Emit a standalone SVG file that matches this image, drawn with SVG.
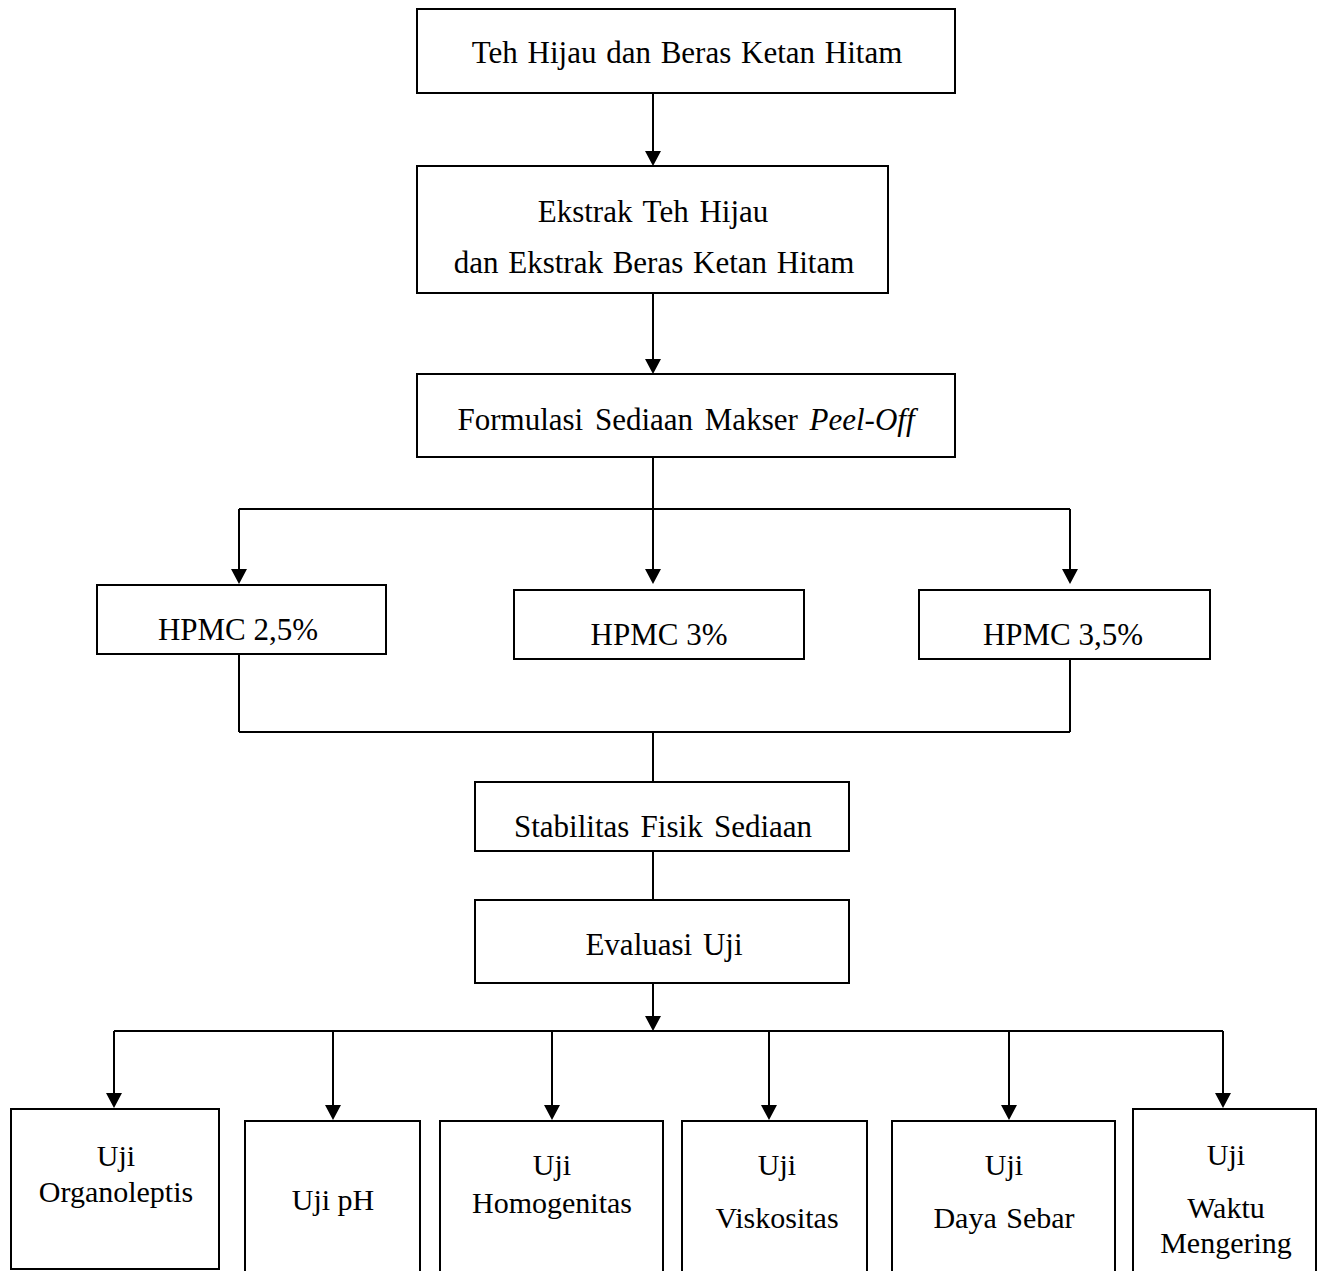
<svg xmlns="http://www.w3.org/2000/svg" width="1324" height="1271" viewBox="0 0 1324 1271">
<defs>
<style>
.box{fill:#fff;stroke:#000;stroke-width:2}
.ln{fill:none;stroke:#000;stroke-width:2}
.ah{fill:#000}
text{font-family:"Liberation Serif","Times New Roman",serif;font-size:31px;fill:#000;text-anchor:middle}
.sm{font-size:30px}
</style>
</defs>
<rect width="1324" height="1271" fill="#fff"/>
<g id="connectors">
<path class="ln" d="M653 93V152M653 293V360M653 457V509M239 509H1070M239 509V570M653 509V570M1070 509V570"/>
<path class="ln" d="M239 654V732M1070 659V732M239 732H1070M653 732V782M653 851V900M653 983V1017M114 1031H1223"/>
<path class="ln" d="M114 1031V1094M333 1031V1106M552 1031V1106M769 1031V1106M1009 1031V1106M1223 1031V1094"/>
<g class="ah">
<polygon points="645,151 661,151 653,166"/>
<polygon points="645,359 661,359 653,374"/>
<polygon points="231,569 247,569 239,584"/>
<polygon points="645,569 661,569 653,584"/>
<polygon points="1062,569 1078,569 1070,584"/>
<polygon points="645,1016 661,1016 653,1031"/>
<polygon points="106,1093 122,1093 114,1108"/>
<polygon points="325,1105 341,1105 333,1120"/>
<polygon points="544,1105 560,1105 552,1120"/>
<polygon points="761,1105 777,1105 769,1120"/>
<polygon points="1001,1105 1017,1105 1009,1120"/>
<polygon points="1215,1093 1231,1093 1223,1108"/>
</g>
</g>
<g id="n1"><rect class="box" x="417" y="9" width="538" height="84"/><text x="687" y="63" word-spacing="2">Teh Hijau dan Beras Ketan Hitam</text></g>
<g id="n2"><rect class="box" x="417" y="166" width="471" height="127"/><text x="653" y="222" word-spacing="3">Ekstrak Teh Hijau</text><text x="654" y="273" word-spacing="2">dan Ekstrak Beras Ketan Hitam</text></g>
<g id="n3"><rect class="box" x="417" y="374" width="538" height="83"/><text x="686" y="430" word-spacing="4">Formulasi Sediaan Makser <tspan font-style="italic">Peel-Off</tspan></text></g>
<g id="n4"><rect class="box" x="97" y="585" width="289" height="69"/><text x="238" y="640">HPMC 2,5%</text></g>
<g id="n5"><rect class="box" x="514" y="590" width="290" height="69"/><text x="659" y="645">HPMC 3%</text></g>
<g id="n6"><rect class="box" x="919" y="590" width="291" height="69"/><text x="1063" y="645">HPMC 3,5%</text></g>
<g id="n7"><rect class="box" x="475" y="782" width="374" height="69"/><text x="663" y="837" word-spacing="3.5">Stabilitas Fisik Sediaan</text></g>
<g id="n8"><rect class="box" x="475" y="900" width="374" height="83"/><text x="664" y="955" word-spacing="3">Evaluasi Uji</text></g>
<g id="n9"><rect class="box" x="11" y="1109" width="208" height="160"/><text class="sm" x="116" y="1166">Uji</text><text class="sm" x="116" y="1202">Organoleptis</text></g>
<g id="n10"><rect class="box" x="245" y="1121" width="175" height="170"/><text class="sm" x="333" y="1210">Uji pH</text></g>
<g id="n11"><rect class="box" x="440" y="1121" width="223" height="170"/><text class="sm" x="552" y="1175">Uji</text><text class="sm" x="552" y="1213">Homogenitas</text></g>
<g id="n12"><rect class="box" x="682" y="1121" width="185" height="170"/><text class="sm" x="777" y="1175">Uji</text><text class="sm" x="777" y="1228">Viskositas</text></g>
<g id="n13"><rect class="box" x="892" y="1121" width="223" height="170"/><text class="sm" x="1004" y="1175">Uji</text><text class="sm" x="1004" y="1228" word-spacing="2">Daya Sebar</text></g>
<g id="n14"><rect class="box" x="1133" y="1109" width="183" height="180"/><text class="sm" x="1226" y="1165">Uji</text><text class="sm" x="1226" y="1218">Waktu</text><text class="sm" x="1226" y="1253">Mengering</text></g>
</svg>
